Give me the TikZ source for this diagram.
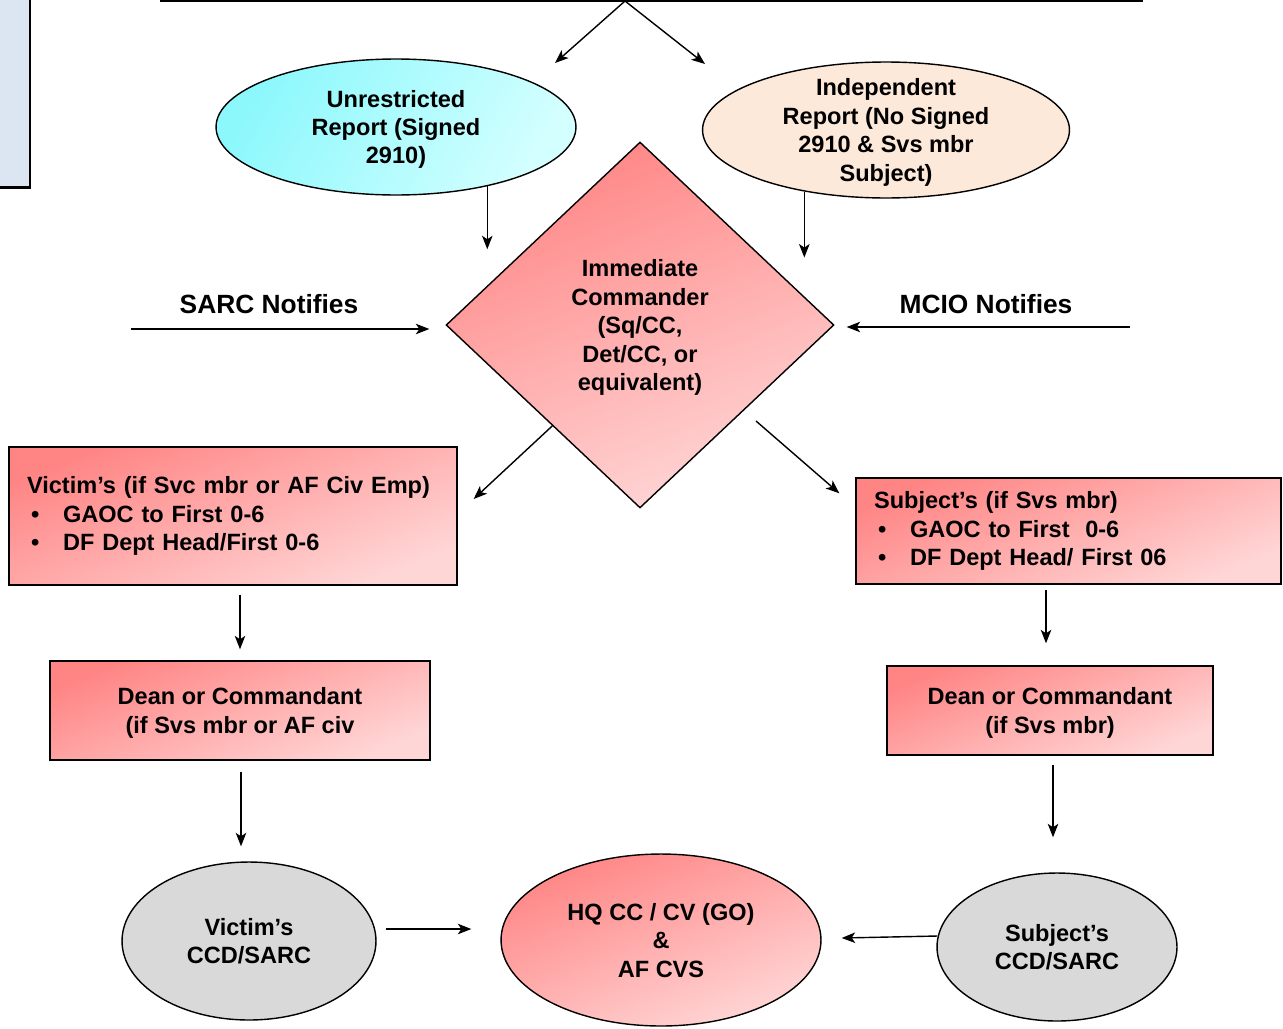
\documentclass[tikz,border=0pt]{standalone}
\usepackage{fontspec}
\setmainfont{Liberation Sans}
\usetikzlibrary{arrows.meta,positioning,calc,shapes.geometric}
\definecolor{RptRed}{HTML}{FF8585}
\definecolor{RptPink}{HTML}{FFD6D6}
\definecolor{RptCyan}{HTML}{8CF8FC}
\definecolor{RptIce}{HTML}{D4FFFF}
\definecolor{RptPeach}{HTML}{FDE9D9}
\definecolor{RptGrey}{HTML}{D9D9D9}
\definecolor{RptNote}{HTML}{DCE6F2}
\newcommand{\rptitem}{\makebox[0.72cm][l]{\hspace{0.08cm}\textbullet}}

\begin{document}
\begin{tikzpicture}[x=0.02cm,y=-0.02cm,line width=0.8pt,
  txt/.style={font=\fontsize{13.4}{16.2}\selectfont\bfseries,align=center},
  ctr/.style={txt,text depth=0pt},
  lbl/.style={font=\fontsize{15}{18}\selectfont\bfseries},
  redfill/.style={top color=RptRed,bottom color=RptPink,shading angle=22},
  redbox/.style={rectangle,draw,redfill,txt},
  listbox/.style={redbox,align=left,inner xsep=0.36cm},
  oval/.style={ellipse,draw,ctr,inner sep=0pt},
  arr/.style={-{Stealth[length=0.27cm,width=0.21cm,inset=0.07cm]}}]
\path[fill=white] (0,0) rectangle (1283,1028);
\useasboundingbox (0,0) rectangle (1283,1028);

\node[draw,fill=RptNote,line width=1.7pt,inner sep=0pt,minimum width=1cm,minimum height=4.16cm] (note) at (5,84) {};

\coordinate (topL) at (160,1);
\coordinate (topR) at (1143,1);
\coordinate (split) at (625,1);
\draw (topL) -- (topR);

\node[oval,top color=RptCyan,bottom color=RptIce,shading angle=60,minimum width=7.2cm,minimum height=2.72cm] (unres) at (396,127) {Unrestricted\\Report (Signed\\2910)};
\node[oval,fill=RptPeach,minimum width=7.34cm,minimum height=2.72cm,inner ysep=-0.15cm] (indep) at (886,130) {Independent\\Report (No Signed\\2910 \& Svs mbr\\Subject)};
\node[diamond,draw,redfill,ctr,aspect=1.06,inner sep=0pt,minimum width=7.76cm,minimum height=7.32cm] (cmdr) at (640,325) {Immediate\\Commander\\(Sq/CC,\\Det/CC, or\\equivalent)};

\node[lbl] (sarc) at (269,304) {SARC Notifies};
\node[lbl] (mcio) at (986,304) {MCIO Notifies};
\coordinate (sarcIn) at ($(sarc)+(-138,25)$);
\coordinate (mcioIn) at ($(mcio)+(144,23)$);

\node[listbox,text width=8.24cm,minimum height=2.76cm] (vicbox) at (233,516) {Victim’s (if Svc mbr or AF Civ Emp)\\\rptitem GAOC to First 0-6\\\rptitem DF Dept Head/First 0-6};
\node[listbox,text width=7.78cm,minimum height=2.12cm] (subbox) at (1068.5,531) {Subject’s (if Svs mbr)\\\rptitem GAOC to First\ \ 0-6\\\rptitem DF Dept Head/ First 06};

\node[redbox,ctr,minimum width=7.6cm,minimum height=1.98cm] (vicdean) at (240,710.5) {Dean or Commandant\\(if Svs mbr or AF civ};
\node[redbox,ctr,minimum width=6.52cm,minimum height=1.78cm] (subdean) at (1050,710.5) {Dean or Commandant\\(if Svs mbr)};

\node[oval,fill=RptGrey,minimum width=5.08cm,minimum height=3.16cm] (vicccd) at (249,941) {Victim’s\\CCD/SARC};
\node[oval,fill=RptGrey,minimum width=4.8cm,minimum height=2.96cm] (subccd) at (1057,947) {Subject’s\\CCD/SARC};
\node[oval,redfill,minimum width=6.4cm,minimum height=3.44cm] (hq) at (661,940) {HQ CC / CV (GO)\\\&\\AF CVS};

\draw[arr] (split) -- ($(unres)+(159,-64)$);
\draw[arr] (split) -- ($(indep)+(-181,-66)$);
\draw[arr] (unres.-33) -- ++(0,63);
\draw[arr] (indep.-143) -- ++(0,66);
\draw[arr,shorten >=0.32cm] (sarcIn) -- (sarcIn -| cmdr.west);
\draw[arr,shorten >=0.24cm] (mcioIn) -- (mcioIn -| cmdr.east);
\draw[arr] (cmdr.-131) -- ($(vicbox.east)+(16,-17)$);
\draw[arr] ($(cmdr)+(116,96)$) -- ($(subbox.north west)+(-16,16)$);
\draw[arr] ($(vicbox.south -| vicdean)+(0,9)$) -- ($(vicdean.north)+(0,-11)$);
\draw[arr] ($(subbox.south -| subdean)+(-4,5)$) -- ($(subdean.north)+(-4,-22)$);
\draw[arr] ($(vicdean.south)+(1,11)$) -- ($(vicccd.north -| vicdean)+(1,-15)$);
\draw[arr] ($(subdean.south)+(3,9)$) -- ($(subccd.north -| subdean)+(3,-35)$);
\draw[arr] ($(vicccd.east)+(9,-12)$) -- ($(hq.west)+(-29,-11)$);
\draw[arr] ($(subccd.west)+(1,-11)$) -- ($(hq.east)+(20,-2)$);
\end{tikzpicture}
\end{document}
